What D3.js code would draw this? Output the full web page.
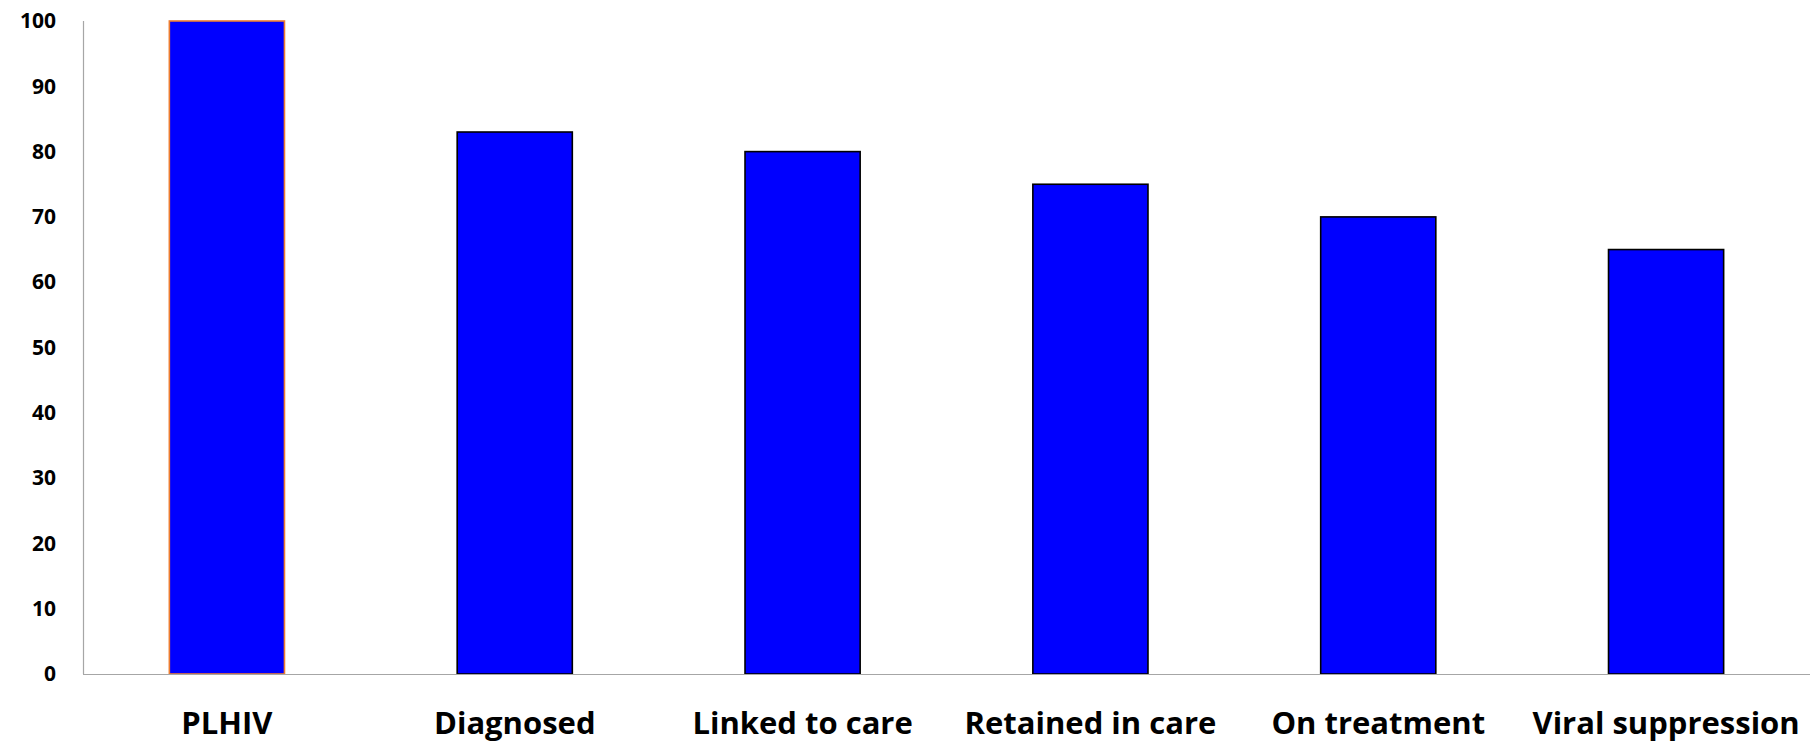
<!DOCTYPE html>
<html>
<head>
<meta charset="utf-8">
<script src="https://cdn.jsdelivr.net/npm/d3@7"></script>
<style>
  html, body { margin: 0; padding: 0; background: #fff; }
  svg { display: block; }
  text { font-family: "Open Sans", Lato, sans-serif; font-weight: 700; fill: #000; }
</style>
</head>
<body>
<svg id="chart" width="1810" height="745"></svg>
<script>
// HIV care cascade, percentage of people living with HIV at each stage
const categories = ["PLHIV", "Diagnosed", "Linked to care", "Retained in care", "On treatment", "Viral suppression"];
const values = [100, 83, 80, 75, 70, 65];
const yTicks = [0, 10, 20, 30, 40, 50, 60, 70, 80, 90, 100];

const W = 1810, H = 745;
const margin = { left: 83, right: 0, top: 21, bottom: 71 };
const FONT = "'Open Sans', Lato, sans-serif";

const svg = d3.select("#chart");

const x = d3.scaleBand()
  .domain(categories)
  .range([margin.left, W - margin.right])
  .paddingInner(0.6)
  .paddingOuter(0.3);

const y = d3.scaleLinear()
  .domain([0, 100])
  .range([H - margin.bottom, margin.top]);

// y axis: labels only, with a plain grey spine
const yAxis = d3.axisLeft(y).tickValues(yTicks).tickSize(0).tickPadding(27);
const gy = svg.append("g").attr("transform", `translate(${margin.left},0)`).call(yAxis);
gy.select(".domain").remove();
gy.selectAll("text").style("font-size", "21px").style("font-family", FONT).style("font-weight", 700);

svg.append("line")
  .attr("x1", margin.left + 0.5).attr("x2", margin.left + 0.5)
  .attr("y1", y(100)).attr("y2", y(0))
  .attr("stroke", "#a6a6a6").attr("stroke-width", 1.2);

// bars
svg.append("g").selectAll("rect")
  .data(values)
  .join("rect")
  .attr("x", (d, i) => x(categories[i]))
  .attr("y", d => y(d))
  .attr("width", x.bandwidth())
  .attr("height", d => y(0) - y(d))
  .attr("fill", "#0000ff")
  .attr("stroke", (d, i) => i === 0 ? "#ed7d31" : "#000")
  .attr("stroke-width", 1.6);

// x axis: grey baseline and category labels
const xAxis = d3.axisBottom(x).tickSize(0).tickPadding(38);
const gx = svg.append("g").attr("transform", `translate(0,${y(0)})`).call(xAxis);
gx.select(".domain").remove();
gx.selectAll("text").style("font-size", "31px").style("font-family", FONT).style("font-weight", 700);

svg.append("line")
  .attr("x1", margin.left).attr("x2", W)
  .attr("y1", y(0) + 0.5).attr("y2", y(0) + 0.5)
  .attr("stroke", "#a6a6a6").attr("stroke-width", 1.2);
</script>
</body>
</html>
